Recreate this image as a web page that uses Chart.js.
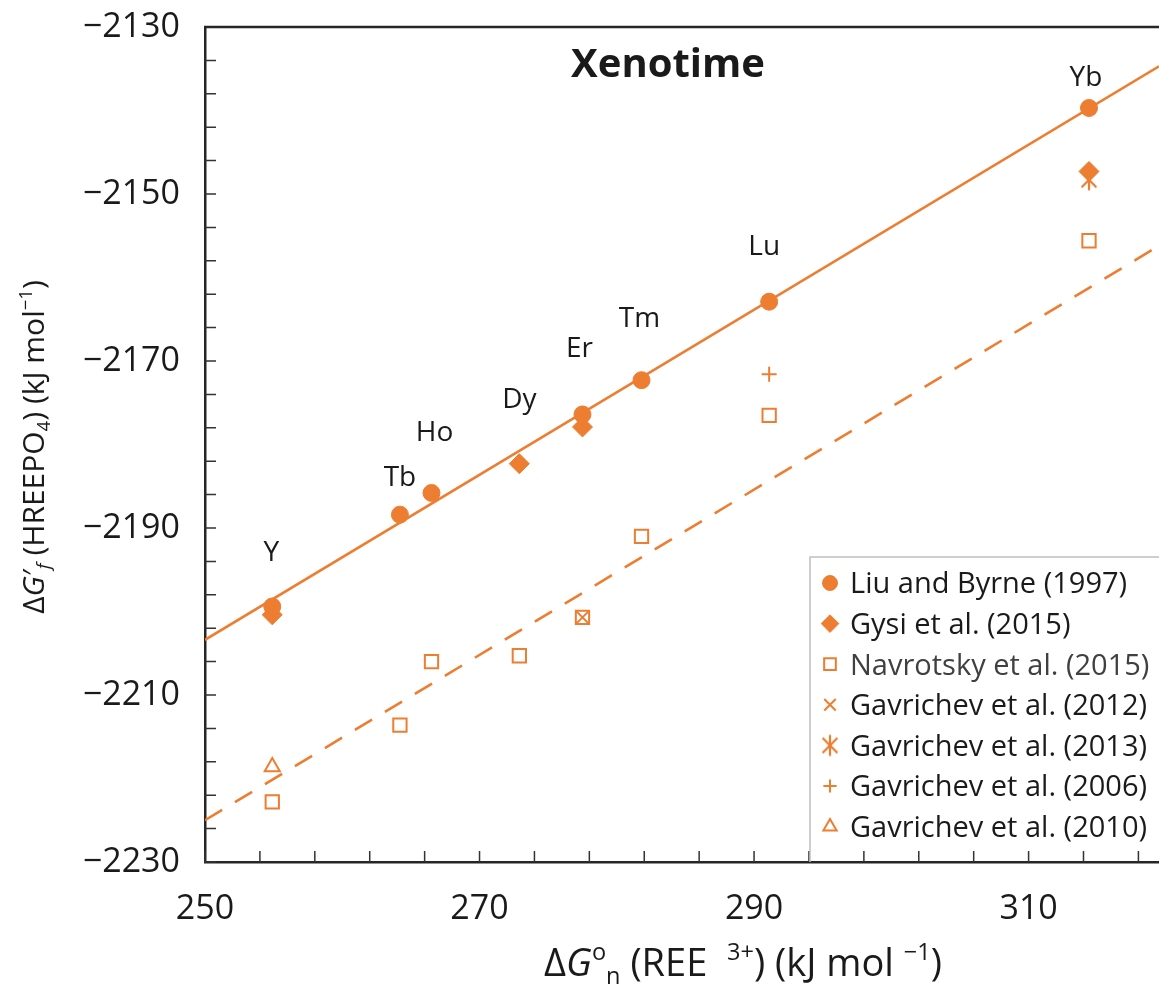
<!DOCTYPE html>
<html>
<head>
<meta charset="utf-8">
<script src="https://cdn.jsdelivr.net/npm/chart.js@4.4.0/dist/chart.umd.min.js"></script>
<style>
  html, body { margin: 0; padding: 0; background: #fff; }
  canvas { display: block; }
</style>
</head>
<body>
<canvas id="chart" width="1159" height="985"></canvas>
<script>
/*
* values, one slot per rare earth element
*/
const ree = ['Y', 'Tb', 'Ho', 'Dy', 'Er', 'Tm', 'Lu', 'Yb'];
const reeDeltaG = [254.9, 264.2, 266.5, 272.9, 277.5, 281.8, 291.1, 314.4];
const liuByrne = [-2199.4, -2188.4, -2185.8, null, -2176.4, -2172.3, -2162.9, -2139.7];
const gysi = [-2200.4, null, null, -2182.3, -2177.9, null, null, -2147.3];
const navrotsky = [-2222.8, -2213.6, -2206.0, -2205.3, -2200.7, -2191.0, -2176.5, -2155.6];
const gavrichev2012 = [null, null, null, null, -2200.7, null, null, null];
const gavrichev2013 = [null, null, null, null, null, null, null, -2148.3];
const gavrichev2006 = [null, null, null, null, null, null, -2171.6, null];
const gavrichev2010 = [-2218.6, null, null, null, null, null, null, null];

// the two trend lines, read where they meet the plot edges
const fitX = [250, 319.5];
const fitSolid = [-2203.4, -2134.7];
const fitDashed = [-2225.0, -2156.2];

// labelled ticks
const xTicks = [250, 270, 290, 310];
const yTicks = [-2230, -2210, -2190, -2170, -2150, -2130];

const orange = '#ED7D31';
const ink = '#1a1a1a';
const font = '"Open Sans", sans-serif';

function points(values) {
    return values
        .map((v, i) => ({ x: reeDeltaG[i], y: v }))
        .filter(p => p.y !== null);
}

function fitPoints(values) {
    return values.map((v, i) => ({ x: fitX[i], y: v }));
}

/*
* excel style star marker: an x with a vertical bar through it
*/
function makeStar(r, color, lw) {
    const c = document.createElement('canvas');
    const s = Math.ceil(2 * r + lw + 2);
    c.width = s;
    c.height = s;
    const g = c.getContext('2d');
    const m = s / 2;
    const d = r * Math.SQRT1_2;
    g.strokeStyle = color;
    g.lineWidth = lw;
    g.beginPath();
    g.moveTo(m - d, m - d); g.lineTo(m + d, m + d);
    g.moveTo(m + d, m - d); g.lineTo(m - d, m + d);
    g.moveTo(m, m - r); g.lineTo(m, m + r);
    g.stroke();
    return c;
}

function marker(label, values, style, radius, filled, width) {
    return {
        label: label,
        data: points(values),
        pointStyle: style,
        pointRadius: radius,
        backgroundColor: filled ? orange : 'rgba(0,0,0,0)',
        borderColor: orange,
        borderWidth: width,
        showLine: false
    };
}

function fitLine(values, dash) {
    return {
        label: '',
        data: fitPoints(values),
        showLine: true,
        pointRadius: 0,
        borderColor: orange,
        borderWidth: 2.6,
        borderDash: dash,
        fill: false
    };
}

/*
* draws a line of text with italics, sub and superscripts, centred on cx, cy
*/
function runFont(run, size) {
    const s = (run.sup || run.sub) ? size * 0.62 : size;
    return (run.i ? 'italic ' : '') + s + 'px ' + font;
}

function drawRich(ctx, runs, cx, cy, size, angle) {
    ctx.save();
    ctx.translate(cx, cy);
    ctx.rotate(angle);
    let total = 0;
    runs.forEach(r => {
        ctx.font = runFont(r, size);
        total += ctx.measureText(r.t).width;
    });
    let x = -total / 2;
    const base = size * 0.357;
    ctx.textAlign = 'left';
    ctx.textBaseline = 'alphabetic';
    ctx.fillStyle = ink;
    runs.forEach(r => {
        ctx.font = runFont(r, size);
        const shift = r.sup ? -size * 0.4 : (r.sub ? size * 0.22 : 0);
        ctx.fillText(r.t, x, base + shift);
        x += ctx.measureText(r.t).width;
    });
    ctx.restore();
}

const xTitle = [
    { t: '\u0394' }, { t: 'G', i: true }, { t: 'o', sup: true }, { t: 'n', sub: true },
    { t: ' (REE  ' }, { t: '3+', sup: true }, { t: ') (kJ mol ' }, { t: '\u22121', sup: true }, { t: ')' }
];
const yTitle = [
    { t: '\u0394' }, { t: 'G', i: true }, { t: '\u2032' }, { t: 'f', i: true, sub: true },
    { t: ' (HREEPO' }, { t: '4', sub: true }, { t: ') (kJ mol' }, { t: '\u22121', sup: true }, { t: ')' }
];

// label offsets from the top marker of each element, in pixels
const labelOffsets = [[-1, -55], [0, -39], [3, -62], [0, -66], [-3, -67], [-2, -63], [-5, -57], [-3, -32]];

const decorations = {
    id: 'decorations',
    afterLayout(chart) {
        // the plot runs off the right edge of the picture
        const xs = chart.scales.x;
        const a = chart.chartArea;
        xs.right = chart.width;
        xs.width = xs.right - xs.left;
        xs.configure();
        a.right = chart.width;
        a.width = a.right - a.left;
    },
    beforeDatasetsDraw(chart) {
        const ctx = chart.ctx;
        const a = chart.chartArea;
        const xs = chart.scales.x;
        const ys = chart.scales.y;
        ctx.save();
        ctx.strokeStyle = '#333';
        ctx.lineWidth = 1.5;
        ctx.beginPath();
        xs.ticks.forEach(t => {
            const px = xs.getPixelForValue(t.value);
            ctx.moveTo(px, a.bottom);
            ctx.lineTo(px, a.bottom - 11);
        });
        ys.ticks.forEach(t => {
            const py = ys.getPixelForValue(t.value);
            ctx.moveTo(a.left, py);
            ctx.lineTo(a.left + 11, py);
        });
        ctx.stroke();
        // top edge of the plot frame
        ctx.strokeStyle = '#262626';
        ctx.lineWidth = 2.5;
        ctx.beginPath();
        ctx.moveTo(a.left - 1, a.top);
        ctx.lineTo(a.right, a.top);
        ctx.stroke();
        ctx.restore();
    },
    afterDatasetsDraw(chart) {
        const ctx = chart.ctx;
        const xs = chart.scales.x;
        const ys = chart.scales.y;
        ctx.save();
        ctx.fillStyle = ink;
        ctx.textAlign = 'center';
        ctx.textBaseline = 'alphabetic';
        ctx.font = 'bold 40px ' + font;
        ctx.fillText('Xenotime', 668, 77);

        ctx.font = '28px ' + font;
        ree.forEach((name, i) => {
            const top = liuByrne[i] !== null ? liuByrne[i] : gysi[i];
            const px = xs.getPixelForValue(reeDeltaG[i]) + labelOffsets[i][0];
            const py = ys.getPixelForValue(top) + labelOffsets[i][1];
            ctx.fillText(name, px, py + 28 * 0.357);
        });
        ctx.restore();
    },
    afterDraw(chart) {
        const ctx = chart.ctx;
        const a = chart.chartArea;
        ctx.save();
        // legend box, open at the bottom where it sits on the axis
        const left = 810, top = 557;
        ctx.strokeStyle = '#bfbfbf';
        ctx.lineWidth = 1.5;
        ctx.beginPath();
        ctx.moveTo(left, a.bottom);
        ctx.lineTo(left, top);
        ctx.lineTo(a.right + 10, top);
        ctx.stroke();

        chart.data.datasets.forEach((ds, i) => {
            if (ds.showLine) return;
            const y = top + 26 + i * 40.6;
            ctx.fillStyle = ds.backgroundColor;
            ctx.strokeStyle = ds.borderColor;
            ctx.lineWidth = ds.borderWidth;
            Chart.helpers.drawPoint(ctx, {
                pointStyle: ds.pointStyle,
                radius: ds.pointRadius * 0.88,
                borderWidth: ds.borderWidth,
                rotation: 0
            }, 830, y);
            ctx.fillStyle = i === 2 ? '#404040' : ink;
            ctx.font = '29px ' + font;
            ctx.textAlign = 'left';
            ctx.textBaseline = 'alphabetic';
            ctx.fillText(ds.label, 850, y + 29 * 0.357);
        });

        drawRich(ctx, xTitle, 743, 962, 38, 0);
        drawRich(ctx, yTitle, 33, 447, 30, -Math.PI / 2);
        ctx.restore();
    }
};

function stepTicks(scale, from, to, step) {
    const t = [];
    for (let v = from; v <= to + 1e-9; v += step) {
        t.push({ value: v });
    }
    scale.ticks = t;
}

new Chart(document.getElementById('chart'), {
    type: 'scatter',
    data: {
        datasets: [
            marker('Liu and Byrne (1997)', liuByrne, 'circle', 8.5, true, 1),
            marker('Gysi et al. (2015)', gysi, 'rectRot', 10, true, 1),
            marker('Navrotsky et al. (2015)', navrotsky, 'rect', 9.4, false, 2),
            marker('Gavrichev et al. (2012)', gavrichev2012, 'crossRot', 9.2, false, 2),
            marker('Gavrichev et al. (2013)', gavrichev2013, makeStar(10.5, orange, 2.2), 10.5, false, 2),
            marker('Gavrichev et al. (2006)', gavrichev2006, 'cross', 7.5, false, 2),
            marker('Gavrichev et al. (2010)', gavrichev2010, 'triangle', 8.7, false, 2),
            fitLine(fitSolid, []),
            fitLine(fitDashed, [20, 15])
        ]
    },
    options: {
        responsive: false,
        animation: false,
        events: [],
        layout: { padding: { top: 27, right: 0, bottom: 0, left: 0 } },
        scales: {
            x: {
                type: 'linear',
                min: fitX[0],
                max: fitX[1],
                afterBuildTicks: s => stepTicks(s, 250, 319.5, 4),
                afterFit: s => { s.height = 123; },
                // grid hidden; tickLength only spaces the labels off the axis
                grid: { display: false, drawTicks: true, tickLength: 27 },
                border: { display: true, color: '#262626', width: 2.5 },
                ticks: {
                    autoSkip: false,
                    maxRotation: 0,
                    padding: 0,
                    color: ink,
                    font: { family: font, size: 34 },
                    callback: v => xTicks.includes(v) ? String(v) : ''
                }
            },
            y: {
                type: 'linear',
                min: -2230,
                max: -2130,
                afterBuildTicks: s => stepTicks(s, -2230, -2130, 4),
                afterFit: s => { s.width = 205; },
                grid: { display: false, drawTicks: true, tickLength: 25 },
                border: { display: true, color: '#262626', width: 2.5 },
                ticks: {
                    autoSkip: false,
                    padding: 0,
                    color: ink,
                    font: { family: font, size: 34 },
                    callback: v => yTicks.includes(v) ? '\u2212' + Math.abs(v) : ''
                }
            }
        },
        plugins: {
            legend: { display: false },
            tooltip: { enabled: false },
            title: { display: false }
        }
    },
    plugins: [decorations]
});
</script>
</body>
</html>
